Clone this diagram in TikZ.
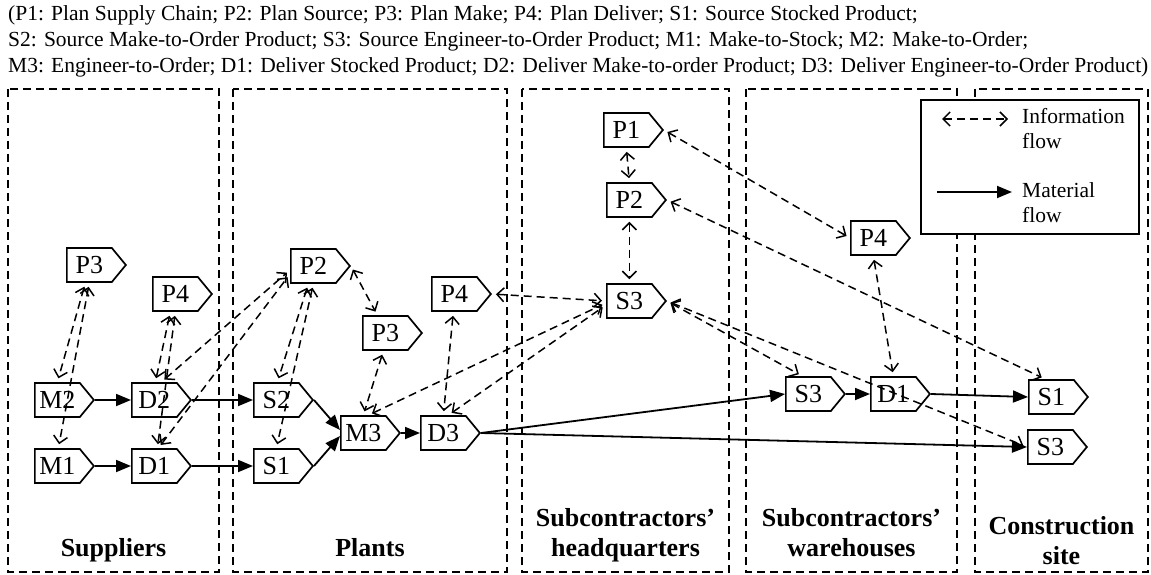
\documentclass[tikz,border=0pt]{standalone}
\usepackage{fontspec}
\setmainfont{Liberation Serif}
\usetikzlibrary{arrows.meta, shapes.symbols}

\begin{document}
\begin{tikzpicture}[
                x=1pt, y=-1pt,
                line join=miter,
                stepnode/.style={shape=signal, signal to=east, signal from=nowhere, signal pointer angle=101, draw=black, fill=white, line width=1.7pt, text width=37pt, align=center, inner xsep=4pt, inner ysep=0pt, minimum height=34pt, anchor=west, font=\fontsize{26}{30}\selectfont},
                infoflow/.style={line width=1.5pt, dash pattern=on 8pt off 5pt, {Straight Barb[length=7pt,width=14pt]}-{Straight Barb[length=7pt,width=14pt]}, shorten <=4pt, shorten >=4pt},
                matflow/.style={line width=1.8pt, -{Triangle[length=15pt,width=12pt]}},
                zone/.style={line width=1.6pt, dash pattern=on 8pt off 5pt},
                zonelabel/.style={anchor=south, align=center, inner sep=0pt, text depth=0pt, font=\fontsize{26}{30}\selectfont\bfseries}
                ]
                \useasboundingbox (0,0) rectangle (1151,575);

                %% Caption
                \node[anchor=south west, align=left, inner sep=0pt, text depth=0pt, font=\fontsize{21.5}{26}\selectfont] (abbrev) at (8,73) {(P1: Plan Supply Chain; P2: Plan Source; P3: Plan Make; P4: Plan Deliver; S1: Source Stocked Product;\\S2: Source Make-to-Order Product; S3: Source Engineer-to-Order Product; M1: Make-to-Stock; M2: Make-to-Order;\\M3: Engineer-to-Order; D1: Deliver Stocked Product; D2: Deliver Make-to-order Product; D3: Deliver Engineer-to-Order Product)};

                %% Zones
                \foreach \xa/\xb in {8/219, 233/507, 522/729, 746/957, 975/1148} {
                    \draw[zone] (\xa, 89) rectangle (\xb, 572);
                }

                \node[zonelabel] (suppliers) at (113.5,557) {Suppliers};
                \node[zonelabel] (plants) at (370,557) {Plants};
                \node[zonelabel] (headquarters) at (625.5,557) {Subcontractors'\\headquarters};
                \node[zonelabel] (warehouses) at (851.5,557) {Subcontractors'\\warehouses};
                \node[zonelabel] (site) at (1061.5,565) {Construction\\site};

                %% Legend
                \draw[line width=1.6pt, fill=white] (921,100) rectangle (1139,234);
                \coordinate (infoA) at (942,119);
                \coordinate (infoB) at (1008,119);
                \coordinate (matA) at (937,192);
                \coordinate (matB) at (1012,192);
                \draw[infoflow, shorten <=0pt, shorten >=0pt] (infoA) -- (infoB);
                \draw[matflow] (matA) -- (matB);
                \node[anchor=south west, align=left, inner sep=0pt, text depth=0pt, font=\fontsize{21.5}{25}\selectfont] (infotext) at (1022,149) {Information\\flow};
                \node[anchor=south west, align=left, inner sep=0pt, text depth=0pt, font=\fontsize{21.5}{25}\selectfont] (mattext) at (1022,223) {Material\\flow};

                %% Suppliers
                \node[stepnode] (sP3) at (66,265) {P3};
                \node[stepnode] (sP4) at (152,294) {P4};
                \node[stepnode] (sM2) at (34,400) {M2};
                \node[stepnode] (sD2) at (131,400) {D2};
                \node[stepnode] (sM1) at (34,466) {M1};
                \node[stepnode] (sD1) at (131,466) {D1};

                %% Plants
                \node[stepnode] (pP2) at (290,266) {P2};
                \node[stepnode] (pP3) at (362,333) {P3};
                \node[stepnode] (pP4) at (431,294) {P4};
                \node[stepnode] (pS2) at (253,400) {S2};
                \node[stepnode] (pS1) at (253,466) {S1};
                \node[stepnode] (pM3) at (340,433) {M3};
                \node[stepnode] (pD3) at (420,433) {D3};

                %% Subcontractors
                \node[stepnode] (hP1) at (603,130) {P1};
                \node[stepnode] (hP2) at (606,200) {P2};
                \node[stepnode] (hS3) at (606,301) {S3};
                \node[stepnode] (wP4) at (850,238) {P4};
                \node[stepnode] (wS3) at (785,394) {S3};
                \node[stepnode] (wD1) at (870,394) {D1};

                %% Construction site
                \node[stepnode] (cS1) at (1028,397) {S1};
                \node[stepnode] (cS3) at (1027,447) {S3};

                %% Material flow
                \draw[matflow] (sM2.east) -- (sD2.west);
                \draw[matflow] (sD2.east) -- (pS2.west);
                \draw[matflow] (sM1.east) -- (sD1.west);
                \draw[matflow] (sD1.east) -- (pS1.west);
                \draw[matflow] (pS2.east) -- ([yshift=3pt]pM3.west);
                \draw[matflow] (pS1.east) -- ([yshift=-3pt]pM3.west);
                \draw[matflow] (pM3.east) -- (pD3.west);
                \draw[matflow] (pD3.east) -- (wS3.west);
                \draw[matflow] (pD3.east) -- (cS3.west);
                \draw[matflow] (wS3.east) -- (wD1.west);
                \draw[matflow] (wD1.east) -- (cS1.west);

                %% Information flow
                \draw[infoflow] ([xshift=-4pt]sP3.south) -- (sM2.north);
                \draw[infoflow] (sP3.south) -- ([xshift=1pt]sM1.north);
                \draw[infoflow] ([xshift=-5pt]sP4.south) -- ([xshift=1pt]sD2.north);
                \draw[infoflow] (sP4.south) -- ([xshift=3pt]sD1.north);
                \draw[infoflow] ([xshift=7pt]sD2.north) -- ([yshift=-4pt]pP2.west);
                \draw[infoflow] ([xshift=4pt]sD1.north) -- ([yshift=-8pt]pP2.west);
                \draw[infoflow] ([xshift=-5pt]pP2.south) -- ([xshift=1pt]pS2.north);
                \draw[infoflow] (pP2.south) -- (pS1.north);
                \draw[infoflow] (pP2.east) -- ([xshift=-8pt]pP3.north);
                \draw[infoflow] ([xshift=-2pt]pP3.south) -- (pM3.north);
                \draw[infoflow] ([xshift=-1pt]pP4.south) -- (pD3.north);
                \draw[infoflow] ([xshift=5pt]pM3.north) -- ([yshift=-2pt]hS3.west);
                \draw[infoflow] ([xshift=5pt]pD3.north) -- ([yshift=-4pt]hS3.west);
                \draw[infoflow] (pP4.east) -- (hS3.west);
                \draw[infoflow] (hP1.south) -- (hP2.north);
                \draw[infoflow] (hP2.south) -- (hS3.north);
                \draw[infoflow] (hP1.east) -- (wP4.west);
                \draw[infoflow] (hP2.east) -- ([xshift=-6pt]cS1.north);
                \draw[infoflow] (hS3.east) -- ([xshift=-6pt]wS3.north);
                \draw[infoflow] (hS3.east) -- (cS3.west);
                \draw[infoflow] (wP4.south) -- (wD1.north);
\end{tikzpicture}
\end{document}
